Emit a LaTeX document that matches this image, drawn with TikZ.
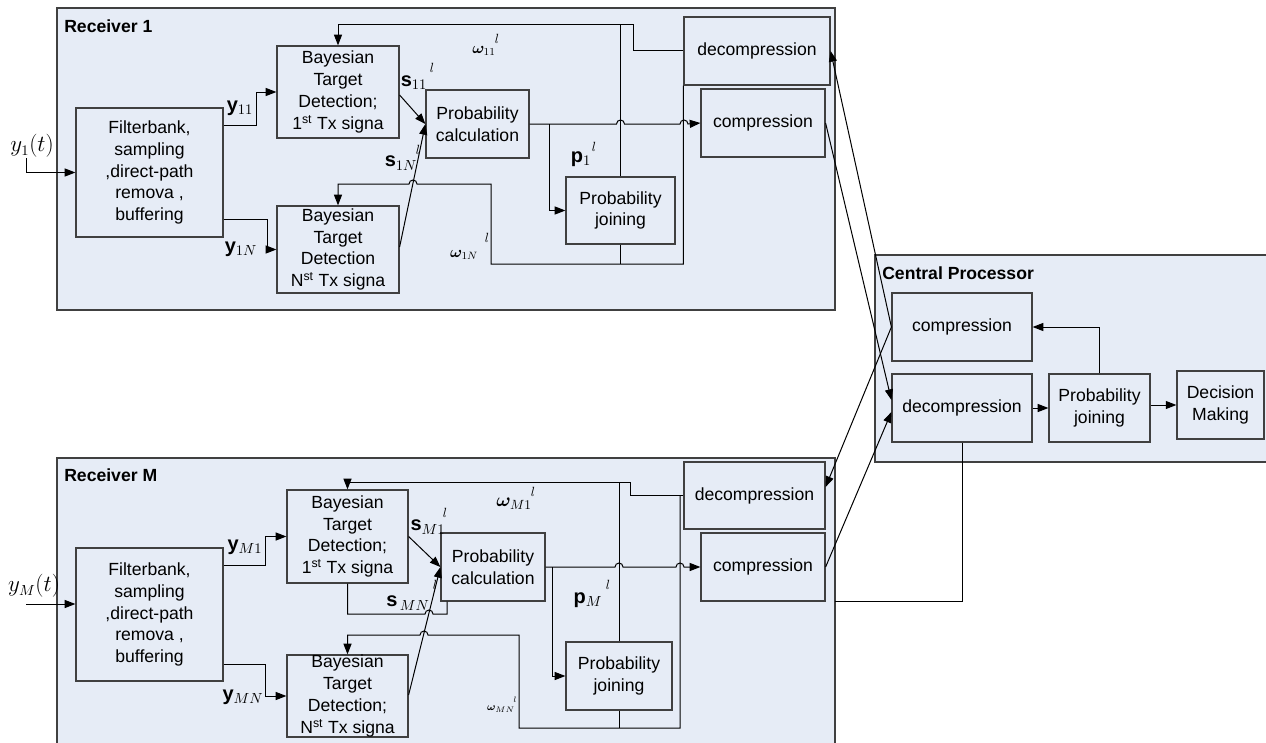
\documentclass[tikz,border=0pt]{standalone}
\usepackage{fontspec}
\setmainfont{Liberation Sans}
\usepackage{bm}
\usetikzlibrary{arrows.meta}
\definecolor{bgc}{HTML}{E6ECF6}
\definecolor{edge}{HTML}{404040}
\newcommand\bxfont{\fontsize{13.2}{16.3}\selectfont}
\newcommand\lblfont{\fontsize{15}{15}\selectfont}
\newcommand\mybox[6]{\node[blk, minimum width={(#4-#2)*0.75pt}, minimum height={(#5-#3)*0.75pt}] (#1) at ({(#2+#4)/2},{(#3+#5)/2}) {#6};}
\newcommand\mycont[5]{\node[cont, minimum width={(#4-#2)*0.75pt}, minimum height={(#5-#3)*0.75pt}] (#1) at ({(#2+#4)/2},{(#3+#5)/2}) {};}
\tikzset{
  blk/.style={draw=edge, fill=bgc, line width=0.9pt, align=center, font=\bxfont, inner sep=0pt},
  cont/.style={draw=edge, fill=bgc, line width=1pt, inner sep=0pt},
  ttl/.style={font=\bxfont\bfseries, anchor=west, inner sep=0pt},
  arr/.style={-{Triangle[length=8pt,width=6pt]}},
  con/.style={draw=black, line width=0.75pt},
  lbl/.style={font=\lblfont, inner sep=0pt},
  sup/.style={font=\fontsize{10}{10}\selectfont, inner sep=0pt},
}
\begin{document}
\begin{tikzpicture}[x=0.75pt,y=-0.75pt]
\useasboundingbox (0,0) rectangle (1266,742);
\begin{scope}
\clip (0,0) rectangle (1266,742);
% containers
\mycont{rx1}{57}{8}{835}{310}
\mycont{rxM}{57}{458}{835}{760}
\mycont{cpc}{875}{255}{1270}{462}
\node[ttl] (t1) at (64,26) {Receiver 1};
\node[ttl] (tM) at (64,475) {Receiver M};
\node[ttl] (tC) at (882,273) {Central Processor};

% Receiver 1 boxes
\mybox{fb1}{76}{108}{223}{237}{Filterbank,\\sampling\\,direct-path\\remova ,\\buffering}
\mybox{bt11}{277}{46}{399}{138}{Bayesian\\Target\\Detection;\\1\textsuperscript{st} Tx signa}
\mybox{bt1N}{277}{206}{399}{293}{Bayesian\\Target\\Detection\\N\textsuperscript{st} Tx signa}
\mybox{pc1}{426}{90}{529}{158}{Probability\\calculation}
\mybox{pj1}{566}{177}{675}{244}{Probability\\joining}
\mybox{dc1}{684}{17}{830}{85}{decompression}
\mybox{cp1}{701}{89}{825}{157}{compression}

% Receiver M boxes
\mybox{fbM}{76}{548}{223}{681}{Filterbank,\\sampling\\,direct-path\\remova ,\\buffering}
\mybox{btM1}{287}{490}{408}{583}{Bayesian\\Target\\Detection;\\1\textsuperscript{st} Tx signa}
\mybox{btMN}{287}{655}{408}{737}{Bayesian\\Target\\Detection;\\N\textsuperscript{st} Tx signa}
\mybox{pcM}{441}{533}{545}{601}{Probability\\calculation}
\mybox{pjM}{566}{642}{672}{710}{Probability\\joining}
\mybox{dcM}{684}{462}{825}{529}{decompression}
\mybox{cpM}{701}{533}{825}{601}{compression}

% Central processor boxes
\mybox{ccp}{892}{293}{1032}{361}{compression}
\mybox{dcp}{892}{374}{1032}{442}{decompression}
\mybox{pjc}{1049}{374}{1150}{442}{Probability\\joining}
\mybox{dm}{1177}{371}{1264}{439}{Decision\\Making}

% ---------- Receiver 1 connectors
\coordinate (in1) at (26,158);
\draw[con,arr] (in1) |- (fb1.west);
\draw[con,arr] (fb1.east |- 0,125) -| (256,92) -- (bt11.west);
\draw[con,arr] (fb1.east |- 0,219) -| (267,249.5) -- (bt1N.west);
\draw[con,arr] (bt11.east |- 0,95) -- (pc1.west);
\draw[con,arr] (bt1N.east |- 0,247) -- (pc1.west);
\draw[con,arr] (dc1.west) -| (633,25) -| (bt11.north);
\draw[con] (pj1.north) -- (pj1.north |- 0,25);
\draw[con] (pj1.south) -- (pj1.south |- 0,264);
\draw[con,arr] (dc1.south west) -- (dc1.south west |- 0,264) -| (491,184) -- (417,184) arc(0:-180:4) -| (bt1N.north);
\draw[con,arr] (pc1.east) -- (616.5,124) arc(180:360:4) -- (680,124) arc(180:360:4) -- (cp1.west);
\coordinate (br1) at (549,124);
\draw[con,arr] (br1) |- (pj1.west);

% Receiver 1 labels
\node[lbl] (ly11) at (240,108) {$\mathbf{y}_{11}$};
\node[lbl] (ly1N) at (241,249) {$\mathbf{y}_{1N}$};
\node[lbl] (ls11) at (414,83) {$\mathbf{s}_{11}$};
\node[sup] (ls11l) at (432,68) {$l$};
\node[lbl] (ls1N) at (401,163) {$\mathbf{s}_{1N}$};
\node[sup] (ls1Nl) at (418,150) {$l$};
\node[lbl, font=\fontsize{12}{12}\selectfont] (lw11) at (484,51) {$\bm{\omega}_{11}$};
\node[sup] (lw11l) at (497,39) {$l$};
\node[lbl, font=\fontsize{12}{12}\selectfont] (lw1N) at (464,255) {$\bm{\omega}_{1N}$};
\node[sup] (lw1Nl) at (487,238) {$l$};
\node[lbl] (lp1) at (581,159) {$\mathbf{p}_{1}$};
\node[sup] (lp1l) at (594,147) {$l$};
\node[lbl, font=\fontsize{16}{16}\selectfont] (ly1t) at (32,146) {$y_1(t)$};

% ---------- Receiver M connectors
\coordinate (inM) at (26,604);
\draw[con,arr] (inM) -- (fbM.west |- 0,604);
\draw[con,arr] (fbM.east |- 0,565) -| (265,536.5) -- (btM1.west);
\draw[con,arr] (fbM.east |- 0,664) -| (265,696) -- (btMN.west);
\draw[con,arr] (btM1.east) -- (pcM.west);
\draw[con,arr] (btMN.east |- 0,695) -- (pcM.west);
\draw[con] (btM1.south) |- (425,614) arc(180:360:4) -| (pcM.south -| 447,0);
\draw[con,arr] (dcM.west) -| (630,482) -| (btM1.north);
\draw[con] (pjM.north) -- (pjM.north |- 0,482);
\draw[con] (pjM.south) -- (pjM.south |- 0,728);
\draw[con,arr] (dcM.west -| 680,0) -- (680,728) -| (519,635) -- (428,635) arc(0:-180:4) -| (btMN.north);
\draw[con,arr] (pcM.east) -- (615,567) arc(180:360:4) -- (676,567) arc(180:360:4) -- (cpM.west);
\coordinate (brM) at (552,567);
\draw[con,arr] (brM) |- (pjM.west);

% Receiver M labels
\node[lbl] (lyM1) at (245,547) {$\mathbf{y}_{M1}$};
\node[lbl] (lyMN) at (243,697) {$\mathbf{y}_{MN}$};
\node[lbl] (lsM1) at (428,527) {$\mathbf{s}_{M1}$};
\node[sup] (lsM1l) at (445,513) {$l$};
\node[lbl] (lsMN) at (408,603) {$\mathbf{s}_{\,MN}$};
\node[sup] (lsMNl) at (435,585) {$l$};
\node[lbl, font=\fontsize{14}{14}\selectfont] (lwM1) at (514,504) {$\bm{\omega}_{M1}$};
\node[sup] (lwM1l) at (533,492) {$l$};
\node[lbl] (lpM) at (588,600) {$\mathbf{p}_{M}$};
\node[sup] (lpMl) at (608,585) {$l$};
\node[lbl, font=\fontsize{8}{8}\selectfont] (lwMN) at (501,709) {$\bm{\omega}_{MN}$};
\node[sup, font=\fontsize{6}{6}\selectfont] (lwMNl) at (515,700) {$l$};
\node[lbl, font=\fontsize{16}{16}\selectfont] (lyMt) at (34,586) {$y_M(t)$};

% ---------- Central processor connectors
\draw[con,arr] (dcp.east) -- (pjc.west);
\draw[con,arr] (pjc.east |- dm.west) -- (dm.west);
\draw[con,arr] (pjc.north) |- (ccp.east);
\coordinate (rxMend) at (835,601);
\draw[con] (dcp.south) |- (rxMend);

% links receivers <-> central
\draw[con,arr] (cp1.east) -- (dcp.west |- 0,400);
\draw[con,arr] (cpM.east) -- (dcp.west |- 0,412);
\draw[con,arr] (ccp.west) -- (dc1.east);
\draw[con,arr] (ccp.west) -- (dcM.east |- 0,487);
\end{scope}
\end{tikzpicture}
\end{document}
